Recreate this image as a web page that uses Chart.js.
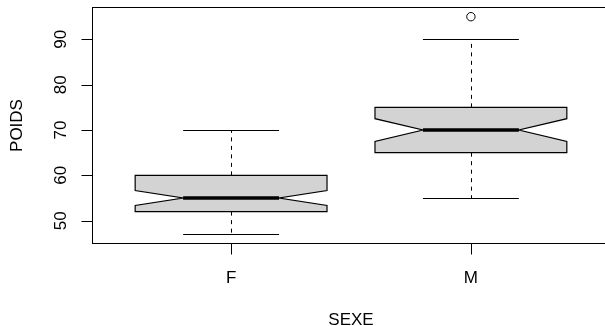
<!DOCTYPE html>
<html>
  <head>
    <script src="https://cdn.jsdelivr.net/npm/chart.js@4"></script>
    <style>
      html, body { margin: 0; padding: 0; overflow: hidden; background: #fff; }
    </style>
  </head>

  <body>
    <canvas id="canvas" width="625" height="326"></canvas>
    <script>
      // boxplot summary per group
      const categories = ['F', 'M'];
      const lowerWhisker = [47, 55];
      const q1 = [52, 65];
      const median = [55, 70];
      const q3 = [60, 75];
      const upperWhisker = [70, 90];
      const notchLow = [53.35, 67.5];
      const notchHigh = [56.65, 72.5];
      const outliers = [[], [95]];
      const yTicks = [50, 60, 70, 80, 90];
      const xTitle = 'SEXE';
      const yTitle = 'POIDS';

      const FONT = '17px "Liberation Sans", Arial, sans-serif';
      const BOX_HALF = 0.4;
      const CAP_HALF = 0.2;

      const outlierPoints = [];
      outliers.forEach((arr, i) => arr.forEach((v) => outlierPoints.push({ x: i + 1, y: v })));

      const crisp = (v) => Math.round(v) + 0.5;

      const boxplotPlugin = {
        id: 'boxplot',
        beforeDatasetsDraw(chart) {
          const { ctx, scales } = chart;
          const x = scales.x, y = scales.y;
          ctx.save();
          categories.forEach((c, i) => {
            const cx = i + 1;
            const xl = x.getPixelForValue(cx - BOX_HALF);
            const xr = x.getPixelForValue(cx + BOX_HALF);
            const xml = x.getPixelForValue(cx - BOX_HALF / 2);
            const xmr = x.getPixelForValue(cx + BOX_HALF / 2);
            const xc = crisp(x.getPixelForValue(cx));

            // whiskers (dashed)
            ctx.strokeStyle = '#000';
            ctx.lineWidth = 1;
            ctx.setLineDash([4, 4.5]);
            ctx.beginPath();
            ctx.moveTo(xc, y.getPixelForValue(q3[i]));
            ctx.lineTo(xc, y.getPixelForValue(upperWhisker[i]));
            ctx.moveTo(xc, y.getPixelForValue(q1[i]));
            ctx.lineTo(xc, y.getPixelForValue(lowerWhisker[i]));
            ctx.stroke();
            ctx.setLineDash([]);

            // caps
            const cl = x.getPixelForValue(cx - CAP_HALF);
            const cr = x.getPixelForValue(cx + CAP_HALF);
            ctx.beginPath();
            [upperWhisker[i], lowerWhisker[i]].forEach((v) => {
              const py = crisp(y.getPixelForValue(v));
              ctx.moveTo(cl, py);
              ctx.lineTo(cr, py);
            });
            ctx.stroke();

            // notched box
            const yq1 = y.getPixelForValue(q1[i]);
            const yq3 = y.getPixelForValue(q3[i]);
            const ynl = y.getPixelForValue(notchLow[i]);
            const ynh = y.getPixelForValue(notchHigh[i]);
            const ym = y.getPixelForValue(median[i]);
            ctx.beginPath();
            ctx.moveTo(xl, yq1);
            ctx.lineTo(xl, ynl);
            ctx.lineTo(xml, ym);
            ctx.lineTo(xl, ynh);
            ctx.lineTo(xl, yq3);
            ctx.lineTo(xr, yq3);
            ctx.lineTo(xr, ynh);
            ctx.lineTo(xmr, ym);
            ctx.lineTo(xr, ynl);
            ctx.lineTo(xr, yq1);
            ctx.closePath();
            ctx.fillStyle = '#d3d3d3';
            ctx.fill();
            ctx.lineWidth = 1.2;
            ctx.strokeStyle = '#000';
            ctx.stroke();

            // median
            ctx.lineWidth = 3.5;
            ctx.beginPath();
            ctx.moveTo(xml, ym);
            ctx.lineTo(xmr, ym);
            ctx.stroke();
          });
          ctx.restore();
        },
        afterDraw(chart) {
          const { ctx, chartArea, scales } = chart;
          const x = scales.x, y = scales.y;
          ctx.save();
          ctx.strokeStyle = '#000';
          ctx.lineWidth = 1;

          // frame
          const left = crisp(chartArea.left), top = crisp(chartArea.top - 1);
          const bottom = crisp(chartArea.bottom), right = crisp(chartArea.right);
          ctx.strokeRect(left, top, right - left, bottom - top);

          ctx.fillStyle = '#000';
          ctx.font = FONT;

          // y axis
          ctx.beginPath();
          yTicks.forEach((t) => {
            const py = crisp(y.getPixelForValue(t));
            ctx.moveTo(left - 11, py);
            ctx.lineTo(left, py);
          });
          ctx.stroke();
          ctx.textAlign = 'center';
          ctx.textBaseline = 'middle';
          yTicks.forEach((t) => {
            const py = y.getPixelForValue(t);
            ctx.save();
            ctx.translate(61, py);
            ctx.rotate(-Math.PI / 2);
            ctx.fillText(String(t), 0, 0);
            ctx.restore();
          });

          // x axis
          ctx.beginPath();
          categories.forEach((c, i) => {
            const px = crisp(x.getPixelForValue(i + 1));
            ctx.moveTo(px, bottom);
            ctx.lineTo(px, bottom + 11);
          });
          ctx.stroke();
          categories.forEach((c, i) => {
            ctx.fillText(c, x.getPixelForValue(i + 1), 278);
          });

          // titles
          ctx.fillText(xTitle, (chartArea.left + chartArea.right) / 2, 320);
          ctx.save();
          ctx.translate(17, (chartArea.top + chartArea.bottom) / 2);
          ctx.rotate(-Math.PI / 2);
          ctx.fillText(yTitle, 0, 0);
          ctx.restore();

          ctx.restore();
        },
      };

      new Chart(document.getElementById('canvas').getContext('2d'), {
        type: 'scatter',
        data: {
          datasets: [
            {
              label: 'outliers',
              data: outlierPoints,
              pointRadius: 4.2,
              pointBackgroundColor: '#fff',
              pointBorderColor: '#000',
              pointBorderWidth: 1,
            },
          ],
        },
        options: {
          responsive: false,
          animation: false,
          layout: { padding: { left: 92, top: 8, right: 15, bottom: 83 } },
          plugins: { legend: { display: false }, tooltip: { enabled: false } },
          scales: {
            x: { type: 'linear', min: 0.42, max: 2.58, display: false },
            y: { type: 'linear', min: 45.08, max: 96.92, display: false },
          },
        },
        plugins: [boxplotPlugin],
      });
    </script>
  </body>
</html>
